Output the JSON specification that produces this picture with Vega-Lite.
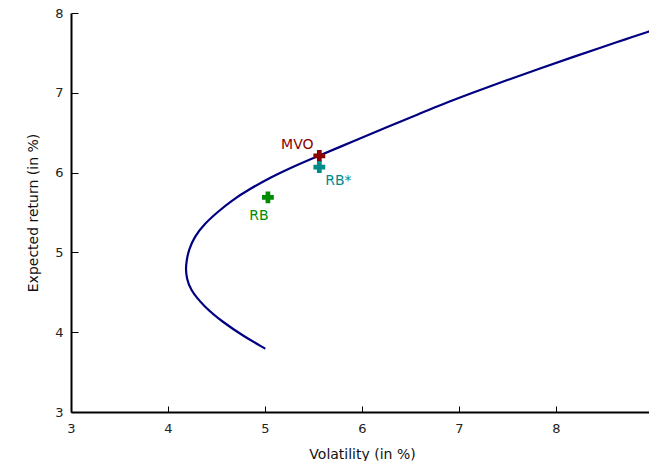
{
  "$schema": "https://vega.github.io/schema/vega-lite/v6.json",
  "width": 582,
  "height": 399,
  "autosize": {"type": "none"},
  "padding": {"left": 71, "top": 13, "right": 0, "bottom": 49},
  "background": "white",
  "config": {
    "view": {"stroke": null},
    "axis": {
      "grid": false,
      "domainColor": "black",
      "domainWidth": 2,
      "tickColor": "black",
      "tickWidth": 1,
      "labelFont": "DejaVu Sans",
      "labelFontSize": 13,
      "labelColor": "#222222",
      "titleFont": "DejaVu Sans",
      "titleFontSize": 14,
      "titleFontWeight": "normal",
      "titleColor": "#111111"
    }
  },
  "datasets": {
    "frontier": [
      {"i": 1, "vol": 4.993, "ret": 3.800},
      {"i": 2, "vol": 4.776, "ret": 3.954},
      {"i": 3, "vol": 4.570, "ret": 4.121},
      {"i": 4, "vol": 4.364, "ret": 4.329},
      {"i": 5, "vol": 4.227, "ret": 4.538},
      {"i": 6, "vol": 4.195, "ret": 4.670},
      {"i": 7, "vol": 4.182, "ret": 4.788},
      {"i": 8, "vol": 4.192, "ret": 4.900},
      {"i": 9, "vol": 4.215, "ret": 5.038},
      {"i": 10, "vol": 4.275, "ret": 5.200},
      {"i": 11, "vol": 4.370, "ret": 5.350},
      {"i": 12, "vol": 4.505, "ret": 5.500},
      {"i": 13, "vol": 4.655, "ret": 5.650},
      {"i": 14, "vol": 4.850, "ret": 5.800},
      {"i": 15, "vol": 5.075, "ret": 5.950},
      {"i": 16, "vol": 5.245, "ret": 6.050},
      {"i": 17, "vol": 5.498, "ret": 6.184},
      {"i": 18, "vol": 5.910, "ret": 6.391},
      {"i": 19, "vol": 6.255, "ret": 6.570},
      {"i": 20, "vol": 6.598, "ret": 6.740},
      {"i": 21, "vol": 6.804, "ret": 6.845},
      {"i": 22, "vol": 7.148, "ret": 7.004},
      {"i": 23, "vol": 7.492, "ret": 7.158},
      {"i": 24, "vol": 7.835, "ret": 7.305},
      {"i": 25, "vol": 8.178, "ret": 7.450},
      {"i": 26, "vol": 8.488, "ret": 7.578},
      {"i": 27, "vol": 8.711, "ret": 7.668},
      {"i": 28, "vol": 9.000, "ret": 7.785}
    ],
    "points": [
      {"name": "MVO", "vol": 5.56, "ret": 6.21},
      {"name": "RB*", "vol": 5.56, "ret": 6.07},
      {"name": "RB", "vol": 5.03, "ret": 5.69}
    ]
  },
  "layer": [
    {
      "data": {"name": "frontier"},
      "mark": {"type": "line", "color": "#000080", "strokeWidth": 2.2, "interpolate": "basis", "strokeCap": "square"},
      "encoding": {
        "x": {
          "field": "vol", "type": "quantitative",
          "scale": {"domain": [3, 9], "nice": false, "zero": false},
          "axis": {
            "title": "Volatility  (in %)",
            "values": [3, 3.5, 4, 4.5, 5, 5.5, 6, 6.5, 7, 7.5, 8, 8.5, 9],
            "format": "d",
            "labelExpr": "datum.value % 1 === 0 ? datum.label : ''",
            "tickSize": -6,
            "labelPadding": 16,
            "titlePadding": 12,
            "labelFlush": false,
            "labelOverlap": false,
            "encode": {
              "ticks": {"update": {"y2": {"signal": "datum.value % 1 === 0 ? -6 : -3"}}},
              "labels": {"update": {"align": {"signal": "datum.value === 3 ? 'left' : 'center'"}}}
            }
          }
        },
        "y": {
          "field": "ret", "type": "quantitative",
          "scale": {"domain": [3, 8], "nice": false, "zero": false},
          "axis": {
            "title": "Expected return  (in %)",
            "values": [3, 3.5, 4, 4.5, 5, 5.5, 6, 6.5, 7, 7.5, 8],
            "format": "d",
            "labelExpr": "datum.value % 1 === 0 ? datum.label : ''",
            "tickSize": -7,
            "labelPadding": 15,
            "titlePadding": 14,
            "labelOverlap": false,
            "encode": {
              "ticks": {"update": {"x2": {"signal": "datum.value % 1 === 0 ? 7 : 4"}}}
            }
          }
        },
        "order": {"field": "i", "type": "quantitative"}
      }
    },
    {
      "data": {"name": "points"},
      "mark": {"type": "point", "shape": "cross", "filled": true, "size": 140, "opacity": 1},
      "encoding": {
        "x": {"field": "vol", "type": "quantitative"},
        "y": {"field": "ret", "type": "quantitative"},
        "color": {"field": "name", "type": "nominal", "legend": null,
          "scale": {"domain": ["MVO", "RB*", "RB"], "range": ["#8B0000", "#008B8B", "#008B00"]}}
      }
    },
    {
      "data": {"name": "points"},
      "transform": [{"filter": "datum.name === 'MVO'"}],
      "mark": {"type": "text", "font": "DejaVu Sans", "fontSize": 14, "fontWeight": "normal", "dx": -22, "dy": -11, "align": "center", "baseline": "middle"},
      "encoding": {
        "x": {"field": "vol", "type": "quantitative"},
        "y": {"field": "ret", "type": "quantitative"},
        "text": {"field": "name"},
        "color": {"field": "name", "type": "nominal", "legend": null}
      }
    },
    {
      "data": {"name": "points"},
      "transform": [{"filter": "datum.name === 'RB*'"}],
      "mark": {"type": "text", "font": "DejaVu Sans", "fontSize": 14, "fontWeight": "normal", "dx": 19, "dy": 14, "align": "center", "baseline": "middle"},
      "encoding": {
        "x": {"field": "vol", "type": "quantitative"},
        "y": {"field": "ret", "type": "quantitative"},
        "text": {"field": "name"},
        "color": {"field": "name", "type": "nominal", "legend": null}
      }
    },
    {
      "data": {"name": "points"},
      "transform": [{"filter": "datum.name === 'RB'"}],
      "mark": {"type": "text", "font": "DejaVu Sans", "fontSize": 14, "fontWeight": "normal", "dx": -9, "dy": 19, "align": "center", "baseline": "middle"},
      "encoding": {
        "x": {"field": "vol", "type": "quantitative"},
        "y": {"field": "ret", "type": "quantitative"},
        "text": {"field": "name"},
        "color": {"field": "name", "type": "nominal", "legend": null}
      }
    }
  ]
}
